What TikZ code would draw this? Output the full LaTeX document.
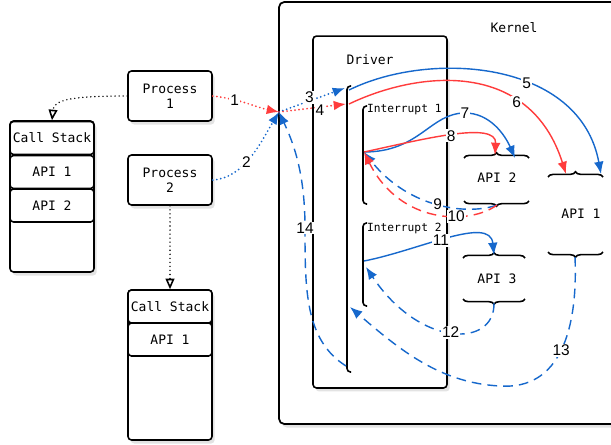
\documentclass[tikz,border=0pt]{standalone}
\usepackage{fontspec}
\setmainfont{Liberation Sans}
\setmonofont{DejaVu Sans Mono}
\usetikzlibrary{arrows.meta}
\usetikzlibrary{shadows}
\usetikzlibrary{decorations.pathreplacing}

\definecolor{callblue}{RGB}{22,104,204}
\definecolor{callred}{RGB}{255,60,60}

\begin{document}
\begin{tikzpicture}[x=0.02cm, y=-0.02cm]
  \tikzset{box/.style = {draw, line width=0.9pt, rounded corners=2pt, fill=white, align=center,
      font=\ttfamily\fontsize{7.4}{8.4}\selectfont}}
  \tikzset{shade/.style = {drop shadow={opacity=0.22, shadow xshift=1.5pt, shadow yshift=-2pt}}}
  \tikzset{proc/.style = {box, shade, minimum width=1.68cm, minimum height=1cm}}
  \tikzset{cell/.style = {box, minimum width=1.68cm, minimum height=0.66cm, inner sep=0pt}}
  \tikzset{title/.style = {font=\ttfamily\fontsize{7.4}{8.4}\selectfont}}
  \tikzset{irq/.style = {anchor=west, inner sep=1pt, font=\ttfamily\fontsize{6.4}{7}\selectfont}}
  \tikzset{num/.style = {fill=white, text=black, inner sep=0.6pt, font=\fontsize{8.8}{9}\selectfont}}
  \tikzset{line/.style = {draw, line width=0.8pt, -{Latex[length=7pt,width=5.5pt]}}}
  \tikzset{ret/.style = {line, dash pattern=on 5.5pt off 3.5pt}}
  \tikzset{hop/.style = {line, line cap=round, dash pattern=on 0pt off 2.3pt, line width=1.1pt}}
  \tikzset{call/.style = {draw, line width=0.9pt, line cap=round, dash pattern=on 0pt off 2.3pt,
      -{Triangle[open,length=6pt,width=5pt]}}}
  \tikzset{bracket/.style = {draw, line width=0.9pt, rounded corners=2pt}}
  \tikzset{api/.style = {draw, line width=0.9pt, decorate, decoration={brace, amplitude=3pt}}}

  \useasboundingbox (0,0) rectangle (611,444);

  \draw[line width=1pt, rounded corners=3pt, fill=white, shade] (279,2) rectangle (640,424);
  \node[title] (kernel) at (514,28) {Kernel};

  \node[box, shade, minimum width=2.68cm, minimum height=7.04cm] (driver) at (380,212) {};
  \node[title] (drvname) at (370,60) {Driver};

  %%%%%%%%%%%%

  \node[proc] (p1) at (170,96) {Process\\1};
  \node[proc] (p2) at (170,180) {Process\\2};

  \node[box, shade, minimum width=1.68cm, minimum height=3.02cm] (stack1) at (52,196.5) {};
  \node[cell] (stack1top) at (52,138) {Call Stack};
  \node[cell] (stack1a) at (52,172) {API 1};
  \node[cell] (stack1b) at (52,205.5) {API 2};

  \node[box, shade, minimum width=1.68cm, minimum height=3cm] (stack2) at (170,365) {};
  \node[cell] (stack2top) at (170,306.5) {Call Stack};
  \node[cell] (stack2a) at (170,339.5) {API 1};

  \draw[call] (p1.west) .. controls (70,96) and (54,100) .. (stack1.north);
  \draw[call] (p2.south) -- (stack2.north);

  %%%%%%%%%%%%

  \draw[bracket] (351,86) -- (347,86) -- (347,372) -- (351,372);
  \draw[bracket] (367,106) -- (363,106) -- (363,204) -- (367,204);
  \draw[bracket] (367,223) -- (363,223) -- (363,306) -- (367,306);
  \node[irq] (irq1name) at (365,110) {Interrupt 1};
  \node[irq] (irq2name) at (365,228) {Interrupt 2};

  \coordinate (hub) at (279,112);
  \coordinate (drv3) at (345,88);
  \coordinate (drv4) at (346,104);
  \coordinate (drv5) at (349,90);
  \coordinate (drv6) at (349,104);
  \coordinate (drv13) at (350,307);
  \coordinate (drv14) at (346,366);
  \coordinate (irq1) at (364,152);
  \coordinate (irq2out) at (364,261);
  \coordinate (irq2in) at (366,267);

  %%%%%%%%%%%%

  \draw[api] (464,158) -- (529,158);
  \draw[api] (529,201) -- (464,201);
  \node[title] (api2) at (497,178) {API 2};
  \coordinate (api2in) at (495,155);
  \coordinate (api2to7) at (515,158);
  \coordinate (api2out) at (497,205);

  \draw[api] (548,177) -- (603,177);
  \draw[api] (603,252) -- (548,252);
  \node[title] (api1) at (581,214) {API 1};
  \coordinate (api1to5) at (601,174);
  \coordinate (api1to6) at (566,174);
  \coordinate (api1out) at (575,257);

  \draw[api] (463,258) -- (525,258);
  \draw[api] (525,299) -- (463,299);
  \node[title] (api3) at (497,279) {API 3};
  \coordinate (api3in) at (494,255);
  \coordinate (api3out) at (494,303);

  %%%%%%%%%%%%

  \draw[hop, callred] (p1.east) .. controls (240,99) and (255,107) .. node[num, pos=0.3] {1} (hub);
  \draw[hop, callblue] (p2.east) .. controls (245,178) and (262,140) .. node[num, pos=0.42] {2} (hub);
  \draw[hop, callblue] (hub) -- node[num, pos=0.46, yshift=2pt] {3} (drv3);
  \draw[hop, callred] (hub) -- node[num, pos=0.61, yshift=-1.5pt] {4} (drv4);

  \draw[line, callblue] (drv5) .. controls (430,50) and (580,60) .. node[num, pos=0.6] {5} (api1to5);
  \draw[line, callred] (drv6) .. controls (420,70) and (530,60) .. node[num, pos=0.7] {6} (api1to6);

  \draw[line, callblue] (irq1) .. controls (420,152) and (430,113) .. (465,113) node[num] {7}
    .. controls (490,113) and (505,135) .. (api2to7);
  \draw[line, callred] (irq1) .. controls (420,140) and (497,120) .. node[num, pos=0.5] {8} (api2in);

  \draw[ret, callblue] (api2out) .. controls (470,215) and (410,210) .. node[num, pos=0.5] {9} (irq1);
  \draw[ret, callred] (api2out) .. controls (470,225) and (400,225) .. node[num, pos=0.35] {10} (irq1);

  \draw[line, callblue] (irq2out) .. controls (420,250) and (490,215) .. node[num, pos=0.45] {11} (api3in);
  \draw[ret, callblue] (api3out) .. controls (495,348) and (420,348) .. node[num, pos=0.5] {12} (irq2in);

  \draw[ret, callblue] (api1out) .. controls (578,330) and (560,390) .. node[num, pos=0.5] {13} (500,386)
    .. controls (440,383) and (400,350) .. (drv13);
  \draw[ret, callblue] (drv14) .. controls (305,340) and (305,290) .. (305,228) node[num] {14}
    .. controls (305,170) and (292,140) .. (hub);

\end{tikzpicture}
\end{document}
